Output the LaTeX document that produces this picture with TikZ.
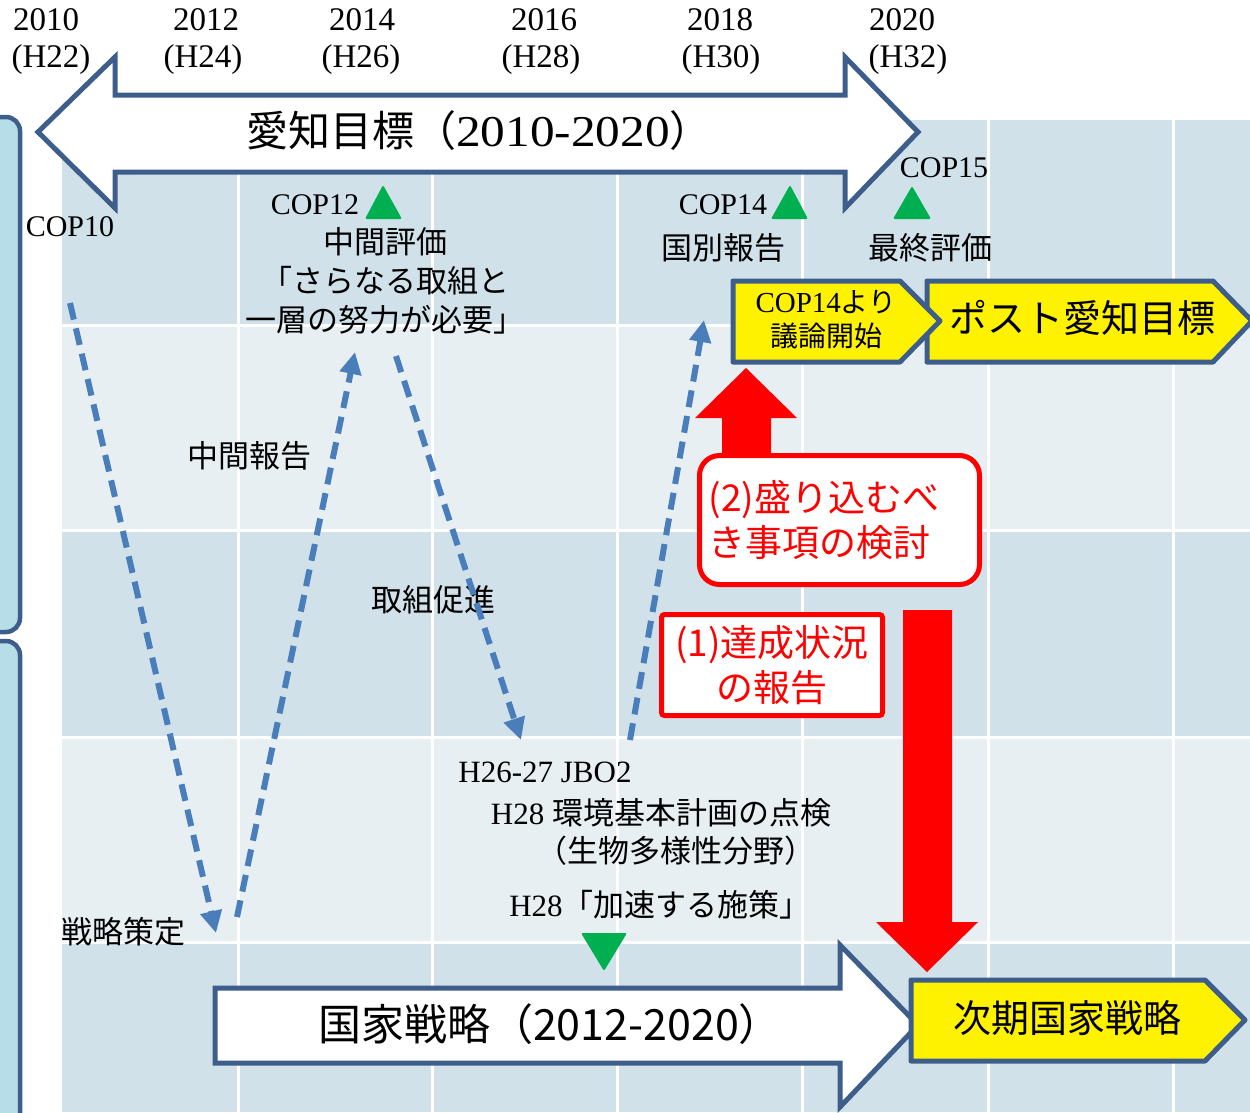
\documentclass[tikz,border=0pt]{standalone}
\usepackage{fontspec}
\usepackage{graphicx}
\setmainfont{Liberation Serif}
\newfontfamily\jp{Noto Sans CJK JP}
\usetikzlibrary{arrows.meta}
\definecolor{dblue}{RGB}{61,94,138}
\definecolor{gdark}{RGB}{208,225,233}
\definecolor{glight}{RGB}{231,239,243}
\definecolor{bfill}{RGB}{183,221,232}
\definecolor{dashblue}{RGB}{74,126,187}
\definecolor{gr}{RGB}{0,176,80}
\begin{document}
\begin{tikzpicture}[x=1pt,y=-1pt,
  yr/.style={font=\fontsize{33}{38}\selectfont, inner sep=0pt},
  cop/.style={font=\fontsize{30}{36}\selectfont, inner sep=0pt},
  jlab/.style={font=\jp\fontsize{31}{39}\selectfont, inner sep=0pt, align=center},
  dasharrow/.style={draw=dashblue, line width=6pt, dash pattern=on 17pt off 9pt, -{Triangle[length=22pt,width=21pt]}},
  bigarrow/.style={draw=dblue, line width=5pt, fill=white, line join=miter},
  ybox/.style={draw=dblue, line width=5pt, fill=yellow, line join=round},
  tri/.style={fill=gr, rounded corners=2pt},
  redbox/.style={draw=red, line width=5pt, fill=white, text=red, inner sep=0pt, font=\jp\fontsize{37}{45}\selectfont}
]
\useasboundingbox (0,0) rectangle (1250,1112);
% grid
\fill[gdark] (62,120) rectangle (1250,325);
\fill[glight] (62,325) rectangle (1250,530);
\fill[gdark] (62,530) rectangle (1250,737);
\fill[glight] (62,737) rectangle (1250,942);
\fill[gdark] (62,942) rectangle (1250,1112);
\foreach \x in {238,432,617,802,988,1173}
  \draw[white, line width=3pt] (\x,120) -- (\x,1112);
\foreach \y in {325,530,737,942}
  \draw[white, line width=3pt] (62,\y) -- (1250,\y);
% left brackets
\draw[dblue, line width=4.5pt, fill=bfill, rounded corners=14pt] (-30,117) rectangle (20,632);
\draw[dblue, line width=4.5pt, fill=bfill, rounded corners=14pt] (-30,641) rectangle (20,1150);
% year labels
\node[yr] (y2010) at (46,20) {2010};
\node[yr] (h22) at (51,60) {(H22)};
\node[yr] (y2012) at (206,20) {2012};
\node[yr] (h24) at (203,60) {(H24)};
\node[yr] (y2014) at (362,20) {2014};
\node[yr] (h26) at (361,60) {(H26)};
\node[yr] (y2016) at (544,20) {2016};
\node[yr] (h28) at (541,60) {(H28)};
\node[yr] (y2018) at (720,20) {2018};
\node[yr] (h30) at (721,60) {(H30)};
\node[yr] (y2020) at (902,20) {2020};
\node[yr] (h32) at (908,60) {(H32)};
% top double arrow
\draw[bigarrow] (38,132) -- (115,57) -- (115,95) -- (845,95) -- (845,57) -- (918,132)
  -- (845,208) -- (845,172) -- (115,172) -- (115,208) -- cycle;
\node[inner sep=0pt] (aichi) at (479,131) {{\jp\fontsize{42}{50}\selectfont 愛知目標（}\scalebox{1.12}[1]{\fontsize{44}{50}\selectfont 2010-2020}{\jp\fontsize{42}{50}\selectfont ）}};
% COP labels and triangles
\node[cop] (cop10) at (70,227) {COP10};
\node[cop] (cop12) at (315,205) {COP12};
\fill[tri] (365,219) -- (383,185) -- (402,219) -- cycle;
\node[cop] (cop14) at (723,205) {COP14};
\fill[tri] (771,219) -- (790,185) -- (808,219) -- cycle;
\node[cop] (cop15) at (944,168) {COP15};
\fill[tri] (893,219) -- (912,186) -- (931,219) -- cycle;
\node[jlab] (chukan) at (385,281) {中間評価\\「さらなる取組と\\一層の努力が必要」};
\node[jlab] (kokubetsu) at (723,248) {国別報告};
\node[jlab] (saishu) at (930,248) {最終評価};
\node[jlab] (chukanhokoku) at (249,456) {中間報告};
\node[jlab] (torikumi) at (433,600) {取組促進};
\node[jlab] (senryaku) at (123,932) {戦略策定};
\node[inner sep=0pt] (jbo) at (545,772) {\fontsize{31}{36}\selectfont H26-27 JBO2};
\node[inner sep=0pt] (kankyo) at (661,813) {{\fontsize{31}{36}\selectfont H28 }{\jp\fontsize{31}{36}\selectfont 環境基本計画の点検}};
\node[jlab] (seibutsu) at (676,851) {（生物多様性分野）};
\node[inner sep=0pt] (kasoku) at (660,905) {{\fontsize{31}{36}\selectfont H28}{\jp\fontsize{31}{36}\selectfont 「加速する施策」}};
\fill[tri] (581,933) -- (627,933) -- (604,971) -- cycle;
% dashed arrows
\coordinate (d1s) at (70,303);
\coordinate (d1e) at (216,933);
\coordinate (d2s) at (237,917);
\coordinate (d2e) at (355,352);
\coordinate (d3s) at (396,356);
\coordinate (d3e) at (521,740);
\coordinate (d4s) at (630,740);
\coordinate (d4e) at (704,320);
\draw[dasharrow] (d1s) -- (d1e);
\draw[dasharrow] (d2s) -- (d2e);
\draw[dasharrow] (d3s) -- (d3e);
\draw[dasharrow] (d4s) -- (d4e);
% yellow boxes
\draw[ybox] (927,281) -- (1213,281) -- (1252,321) -- (1213,362) -- (927,362) -- cycle;
\node[inner sep=0pt] (post) at (1082,318) {\jp\fontsize{38}{44}\selectfont ポスト愛知目標};
\draw[ybox] (733,281) -- (900,281) -- (940,321) -- (900,362) -- (733,362) -- cycle;
\node[inner sep=0pt, align=center, font=\jp\fontsize{28}{34}\selectfont] (giron) at (826,320) {{\rmfamily\fontsize{29}{34}\selectfont COP14}より\\議論開始};
% bottom arrow
\draw[bigarrow] (215,988) -- (840,988) -- (840,945) -- (918,1025) -- (840,1107) -- (840,1063) -- (215,1063) -- cycle;
\node[inner sep=0pt] (kokka) at (550,1024) {\jp\fontsize{43}{50}\selectfont 国家戦略（2012-2020）};
\draw[ybox] (911,980) -- (1205,980) -- (1245,1020) -- (1205,1061) -- (911,1061) -- cycle;
\node[inner sep=0pt] (jiki) at (1067,1018) {\jp\fontsize{38}{44}\selectfont 次期国家戦略};
% red arrows
\fill[red] (722,460) -- (722,418) -- (695,418) -- (746,368) -- (797,418) -- (771,418) -- (771,460) -- cycle;
\fill[red] (903,610) -- (952,610) -- (952,922) -- (978,922) -- (927,972) -- (876,922) -- (903,922) -- cycle;
% red boxes
\node[redbox, rounded corners=20pt, minimum width=280pt, minimum height=129pt, text width=262pt, align=left] (box2) at (839.5,520) {(2)盛り込むべ\\き事項の検討};
\node[redbox, rounded corners=3pt, minimum width=221pt, minimum height=101pt, align=center] (box1) at (772,665) {(1)達成状況\\の報告};
\end{tikzpicture}
\end{document}
